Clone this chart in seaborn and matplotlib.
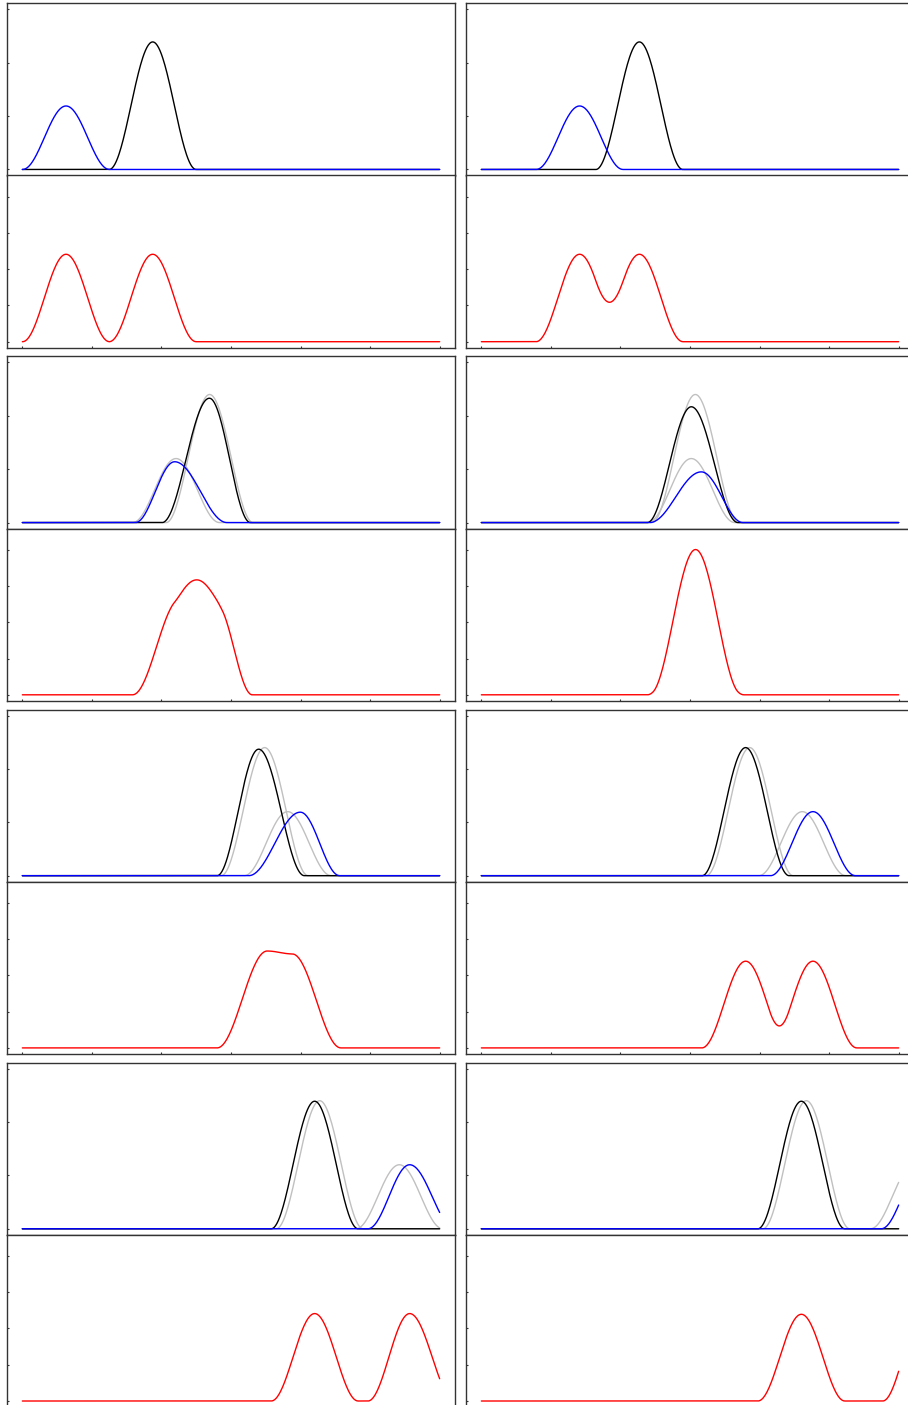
import numpy as np
import pandas as pd
import matplotlib
matplotlib.use('Agg')
import matplotlib.pyplot as plt
import seaborn as sn

# panels in reading order: (row 1 left, row 1 right, row 2 left, ...)
# each bump: peak position, half width left / right, peak height
black_x = [1.874, 2.272, 2.689, 3.019, 3.398, 3.800, 4.203, 4.601]
black_wl = [0.625, 0.625, 0.680, 0.633, 0.598, 0.625, 0.625, 0.625]
black_wr = [0.625, 0.625, 0.590, 0.670, 0.657, 0.625, 0.625, 0.625]
black_h = [2.39, 2.39, 2.33, 2.17, 2.37, 2.40, 2.39, 2.39]

blue_x = [0.628, 1.413, 2.190, 3.163, 3.997, 4.768, 5.569, 6.350]
blue_wl = [0.625, 0.625, 0.565, 0.743, 0.743, 0.610, 0.600, 0.600]
blue_wr = [0.625, 0.625, 0.753, 0.598, 0.565, 0.610, 0.650, 0.600]
blue_h = [1.19, 1.19, 1.14, 0.95, 1.19, 1.20, 1.20, 1.20]

# light grey reference bumps (not in the first row)
grey_tall_x = [None, None, 2.693, 3.077, 3.484, 3.858, 4.275, 4.673]
grey_short_x = [None, None, 2.210, 3.019, 3.815, 4.615, 5.421, 6.220]
grey_w = 0.625
grey_tall_h = 2.40
grey_short_h = 1.20

# red curve, built from two bumps a and b
red_a_x = [1.874, 2.272, 2.274, 3.040, 3.520, 3.800, 4.203, 4.601]
red_a_wl = [0.625, 0.627, 0.690, 0.654, 0.720, 0.630, 0.625, 0.625]
red_a_wr = [0.625, 0.627, 0.600, 0.654, 0.360, 0.630, 0.625, 0.625]
red_a_h = [2.41, 2.41, 2.65, 2.02, 2.67, 2.39, 2.41, 2.39]
red_b_x = [0.628, 1.413, 2.786, 3.120, 3.880, 4.768, 5.569, 6.350]
red_b_wl = [0.625, 0.627, 0.600, 0.654, 0.360, 0.630, 0.600, 0.580]
red_b_wr = [0.625, 0.627, 0.520, 0.654, 0.700, 0.630, 0.650, 0.580]
red_b_h = [2.41, 2.41, 2.50, 2.02, 2.59, 2.39, 2.41, 2.41]

x_grid = np.linspace(0, 6, 601)


def bump(x, c, wl, wr, h):
    d = x - c
    w = np.where(d < 0, wl, wr)
    u = np.clip(np.abs(d) / w, 0, 1)
    return h * 0.5 * (1 + np.cos(np.pi * u))


sn.set_style('white')
W, H = 908, 1405
fig = plt.figure(figsize=(W / 100, H / 100), dpi=100)

col_left = [6.7, 465.7]
ax_w = 448.6
ax_h = 172.2
lw = 1.0


def style(ax, top):
    for s in ax.spines.values():
        s.set_color('#333333')
        s.set_linewidth(1.0)
    ax.set_xlim(-0.225, 6.225)
    ax.set_xticks(range(7))
    ax.set_xticklabels([])
    ax.set_yticklabels([])
    ax.tick_params(direction='in', length=1.6, width=0.8, color='#333333',
                   left=True, bottom=not top)
    ax.set_xlabel('')
    ax.set_ylabel('')


for i in range(8):
    row, col = i // 2, i % 2
    l = col_left[col]
    pt = 3.3 + 353.1 * row
    ax_top = fig.add_axes([l / W, 1 - (pt + ax_h) / H, ax_w / W, ax_h / H])
    ax_bot = fig.add_axes([l / W, 1 - (pt + 2 * ax_h) / H, ax_w / W, ax_h / H])

    if grey_tall_x[i] is not None:
        g1 = bump(x_grid, grey_tall_x[i], grey_w, grey_w, grey_tall_h)
        g2 = bump(x_grid, grey_short_x[i], grey_w, grey_w, grey_short_h)
        sn.lineplot(x=x_grid, y=g1, ax=ax_top, color='#c0c0c0', lw=lw, estimator=None)
        sn.lineplot(x=x_grid, y=g2, ax=ax_top, color='#c0c0c0', lw=lw, estimator=None)

    kb = bump(x_grid, black_x[i], black_wl[i], black_wr[i], black_h[i])
    bl = bump(x_grid, blue_x[i], blue_wl[i], blue_wr[i], blue_h[i])
    sn.lineplot(x=x_grid, y=kb, ax=ax_top, color='black', lw=lw, estimator=None)
    sn.lineplot(x=x_grid, y=bl, ax=ax_top, color='blue', lw=lw, estimator=None)
    ax_top.set_ylim(-0.113, 3.114)
    ax_top.set_yticks([0, 1, 2, 3])
    style(ax_top, True)

    red = (bump(x_grid, red_a_x[i], red_a_wl[i], red_a_wr[i], red_a_h[i])
           + bump(x_grid, red_b_x[i], red_b_wl[i], red_b_wr[i], red_b_h[i]))
    sn.lineplot(x=x_grid, y=red, ax=ax_bot, color='red', lw=lw, estimator=None)
    ax_bot.set_ylim(-0.165, 4.58)
    ax_bot.set_yticks([0, 1, 2, 3, 4])
    style(ax_bot, False)

fig.savefig('out.png', dpi=100)
